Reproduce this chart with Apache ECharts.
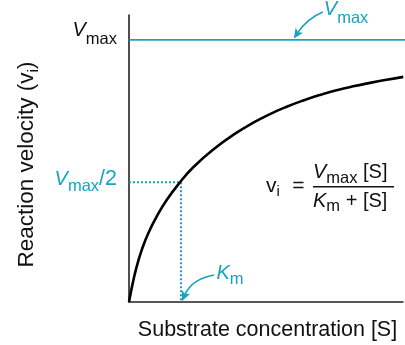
<!DOCTYPE html>
<html><head><meta charset="utf-8">
<script src="https://cdn.jsdelivr.net/npm/echarts@6/dist/echarts.min.js"></script>
<style>html,body{margin:0;padding:0;background:#fff}#c{width:405px;height:345px}</style>
</head><body><div id="c"></div>
<script>
// ---- data ----
const substrate = [0, 0.071, 0.148, 0.244, 0.371, 0.533, 0.725, 0.981, 1.231, 1.615, 2.071, 2.39, 2.712, 3.033, 3.352, 3.673, 3.994, 4.313, 4.635, 4.956, 5.275];
const velocity  = [0, 0.071, 0.135, 0.198, 0.262, 0.326, 0.389, 0.457, 0.513, 0.581, 0.646, 0.684, 0.717, 0.745, 0.769, 0.790, 0.808, 0.823, 0.836, 0.848, 0.859];
const vmax = 1.0;
const halfVmax = 0.457;
const km = 1.0;
const xRange = [0, 5.27];
const yRange = [0, 1.095];
const vmaxLineEnd = 5.31;
const vmaxArrowX = 3.17;
const xTitle = 'Substrate concentration [S]';
const yTitleParts = ['Reaction velocity (v', 'i', ')'];

const TEAL = '#17a3bf';
const FONT = '"Liberation Sans", Arial, Helvetica, sans-serif';

const chart = echarts.init(document.getElementById('c'), null, {renderer: 'canvas'});
const axisCommon = {
  type: 'value',
  axisLine: {show: true, onZero: false, lineStyle: {color: '#222', width: 1.6}},
  axisTick: {show: false}, axisLabel: {show: false}, splitLine: {show: false}
};
chart.setOption({
  animation: false,
  backgroundColor: '#fff',
  grid: {left: 129, right: 2, top: 15, bottom: 43},
  xAxis: Object.assign({min: xRange[0], max: xRange[1]}, axisCommon),
  yAxis: Object.assign({min: yRange[0], max: yRange[1]}, axisCommon),
  series: [
    {type: 'line', data: [[0, vmax], [vmaxLineEnd, vmax]], showSymbol: false, clip: false,
     lineStyle: {color: TEAL, width: 1.7}, z: 2},
    {type: 'line', data: [[0, halfVmax], [km, halfVmax], [km, 0]], showSymbol: false, clip: false,
     lineStyle: {color: TEAL, width: 2, type: [2, 2]}, z: 2},
    {type: 'line', data: substrate.map((s, i) => [s, velocity[i]]), showSymbol: false, smooth: 0.5, clip: false,
     lineStyle: {color: '#000', width: 2.6}, z: 3}
  ]
});

const ctx = document.createElement('canvas').getContext('2d');
function fontStr(p) { return (p.italic ? 'italic ' : '') + p.size + 'px ' + FONT; }
function measure(p) { ctx.font = fontStr(p); return ctx.measureText(p.t).width; }
function composite(parts, x, y, align, color, rotation) {
  const widths = parts.map(measure);
  const total = widths.reduce((a, b) => a + b, 0);
  let cx = align === 'right' ? -total : align === 'center' ? -total / 2 : 0;
  const children = parts.map((p, i) => {
    const el = {type: 'text', style: {text: p.t, x: cx, y: (p.dy || 0) - 0.35 * p.size,
      font: fontStr(p), fill: p.color || color, textAlign: 'left', verticalAlign: 'middle', textVerticalAlign: 'middle'}};
    cx += widths[i];
    return el;
  });
  return {type: 'group', x: x, y: y, rotation: rotation || 0, children: children};
}
function arrow(p0, c, tip, color) {
  const dx = tip[0] - c[0], dy = tip[1] - c[1];
  const len = Math.hypot(dx, dy), ux = dx / len, uy = dy / len;
  const L = 10, W = 4.5;
  const bx = tip[0] - ux * L, by = tip[1] - uy * L;
  const nx = -uy, ny = ux;
  const mx = tip[0] - ux * L * 0.75, my = tip[1] - uy * L * 0.75;
  return [
    {type: 'bezierCurve', shape: {x1: p0[0], y1: p0[1], x2: bx + ux * 3, y2: by + uy * 3, cpx1: c[0], cpy1: c[1]},
     style: {stroke: color, lineWidth: 1.6, fill: null}},
    {type: 'polygon', shape: {points: [tip, [bx + nx * W, by + ny * W], [mx, my], [bx - nx * W, by - ny * W]]},
     style: {fill: color}}
  ];
}

const px = (x, y) => chart.convertToPixel({gridIndex: 0}, [x, y]);
const pV = px(0, vmax), pHalf = px(0, halfVmax), pKm = px(km, 0), pArr = px(vmaxArrowX, vmax);
const M = 20, S = 16.5;

const graphics = [];
// left Vmax
graphics.push(composite([{t: 'V', size: M, italic: true}, {t: 'max', size: S, dy: 7}], pV[0] - 12, pV[1] - 2, 'right', '#111'));
// Vmax/2
graphics.push(composite([{t: 'V', size: M, italic: true}, {t: 'max', size: S, dy: 6}, {t: '/2', size: 21.5}], pHalf[0] - 12, pHalf[1] + 4.5, 'right', TEAL));
// top-right Vmax annotation
const tl = [pArr[0] + 30, pV[1] - 23];
graphics.push(composite([{t: 'V', size: M, italic: true}, {t: 'max', size: S, dy: 7}], tl[0], tl[1], 'left', TEAL));
graphics.push(...arrow([tl[0] - 1, tl[1] - 5], [tl[0] - 16.5, tl[1] + 1.5], [pArr[0], pArr[1] - 1.5], TEAL));
// Km annotation
const kl = [pKm[0] + 35.5, pKm[1] - 21.5];
graphics.push(composite([{t: 'K', size: M, italic: true}, {t: 'm', size: S, dy: 5}], kl[0], kl[1], 'left', TEAL));
graphics.push(...arrow([kl[0] - 2.5, kl[1] - 5.5], [kl[0] - 24.5, kl[1] - 1.5], [pKm[0] + 1, pKm[1] - 1], TEAL));
// Equation
graphics.push(composite([{t: 'v', size: 21}, {t: 'i', size: 15, dy: 4}], 266, 193.5, 'left', '#111'));
graphics.push(composite([{t: '=', size: 21}], 298.5, 194, 'center', '#111'));
graphics.push(composite([{t: 'V', size: M, italic: true}, {t: 'max', size: S, dy: 5}, {t: ' [S]', size: M}], 313, 179, 'left', '#111'));
graphics.push({type: 'line', shape: {x1: 313, y1: 186.7, x2: 394, y2: 186.7}, style: {stroke: '#111', lineWidth: 1.5}});
graphics.push(composite([{t: 'K', size: M, italic: true}, {t: 'm', size: S, dy: 4}, {t: ' + [S]', size: M}], 313, 208, 'left', '#111'));
// axis titles
graphics.push(composite([{t: xTitle, size: 21.5}], 267.5, 338, 'center', '#111'));
graphics.push(composite([{t: yTitleParts[0], size: 22.5}, {t: yTitleParts[1], size: 15.5, dy: 4}, {t: yTitleParts[2], size: 22.5}],
  35, 164.5, 'center', '#111', Math.PI / 2));

chart.setOption({graphic: graphics});
</script></body></html>
